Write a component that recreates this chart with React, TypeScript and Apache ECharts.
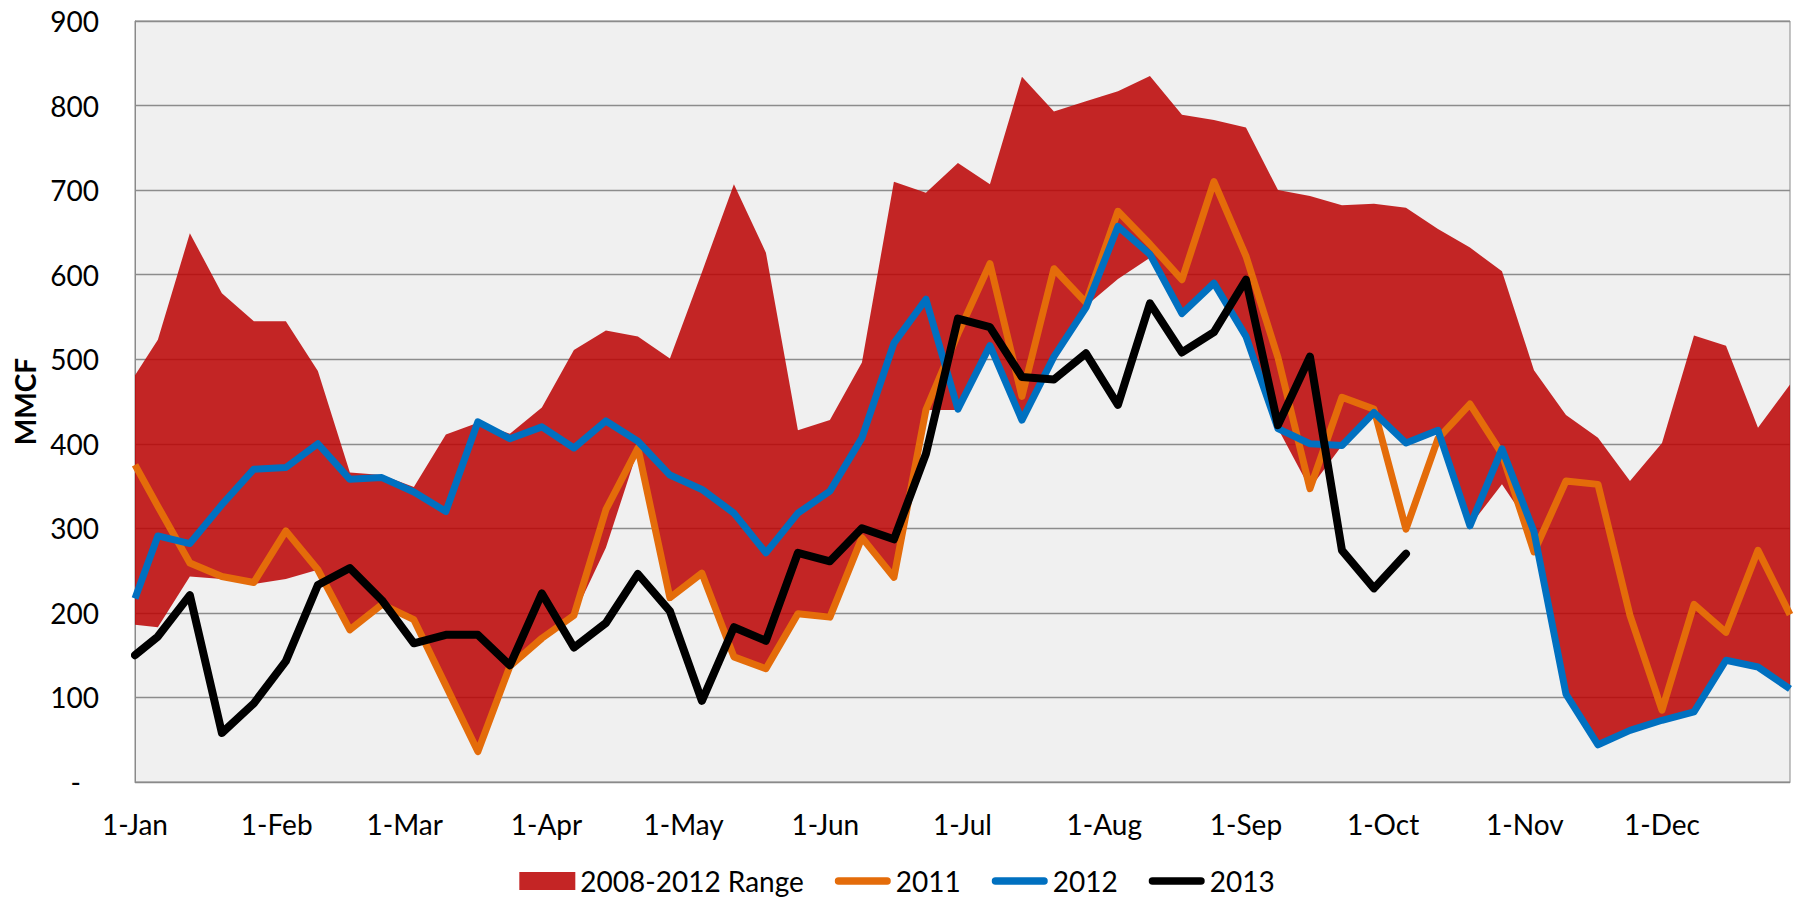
import React, { useEffect, useRef } from 'react';
import * as echarts from 'echarts';

// Day of year (0 = 1-Jan) of each weekly observation
const weekDays = [0, 5, 12, 19, 26, 33, 40, 47, 54, 61, 68, 75, 82, 89, 96, 103, 110, 117, 124, 131, 138, 145, 152, 159, 166, 173, 180, 187, 194, 201, 208, 215, 222, 229, 236, 243, 250, 257, 264, 271, 278, 285, 292, 299, 306, 313, 320, 327, 334, 341, 348, 355, 362];

const monthStartDays = [0, 31, 59, 90, 120, 151, 181, 212, 243, 273, 304, 334];
const monthLabels = ['1-Jan', '1-Feb', '1-Mar', '1-Apr', '1-May', '1-Jun', '1-Jul', '1-Aug', '1-Sep', '1-Oct', '1-Nov', '1-Dec'];

const rangeHigh = [481, 523, 649, 578, 545, 545, 486, 366, 363, 349, 411, 425, 412, 443, 511, 534, 527, 501, 603, 707, 626, 416, 428, 496, 710, 697, 732, 707, 834, 793, 805, 817, 835, 789, 783, 774, 700, 693, 682, 684, 679, 654, 632, 604, 487, 434, 407, 356, 401, 528, 516, 419, 470];
const rangeLow = [186, 183, 243, 240, 234, 240, 251, 180, 209, 192, 114, 36, 136, 169, 197, 277, 393, 217, 246, 148, 134, 199, 195, 289, 241, 440, 440, 516, 428, 503, 563, 595, 620, 554, 589, 526, 418, 347, 398, 437, 401, 416, 303, 352, 296, 104, 44, 61, 73, 83, 144, 136, 110];
const y2011 = [375, 326, 259, 243, 236, 297, 251, 180, 210, 192, 114, 36, 137, 170, 197, 322, 395, 218, 247, 148, 134, 199, 195, 289, 242, 440, 530, 613, 456, 607, 567, 675, 636, 594, 710, 622, 502, 347, 455, 441, 299, 406, 447, 388, 272, 356, 352, 197, 85, 210, 177, 274, 198];
const y2012 = [217, 291, 282, 328, 370, 372, 400, 358, 360, 343, 320, 426, 406, 420, 395, 427, 403, 363, 346, 318, 271, 318, 344, 407, 519, 571, 441, 516, 428, 503, 561, 657, 624, 554, 590, 527, 418, 400, 398, 437, 401, 416, 303, 394, 296, 104, 44, 61, 73, 83, 144, 136, 110];
const y2013 = [150, 172, 221, 58, 93, 143, 233, 253, 215, 164, 174, 174, 138, 223, 159, 188, 246, 202, 96, 183, 167, 271, 261, 300, 287, 388, 548, 538, 479, 476, 507, 446, 566, 508, 532, 594, 422, 503, 274, 229, 270];

const FONT = 'Lato, "Open Sans", sans-serif';
const LINE_ICON = 'path://M4,0 L56,0 A4,4 0 0 1 56,8 L4,8 A4,4 0 0 1 4,0 Z';

export default function App() {
  const ref = useRef<HTMLDivElement>(null);

  useEffect(() => {
    const chart = echarts.init(ref.current as HTMLDivElement, null, { renderer: 'svg' });
    const pairs = (vals: number[]) => vals.map((v, i) => [weekDays[i], v]);

    chart.setOption({
      animation: false,
      textStyle: { fontFamily: FONT, color: '#000' },
      grid: {
        left: 135,
        right: 4,
        top: 21,
        bottom: 116,
        show: true,
        backgroundColor: '#f0f0f0',
        borderColor: '#8a8a8a',
        borderWidth: 1,
      },
      legend: {
        top: 861,
        left: 'center',
        itemWidth: 56,
        itemHeight: 18,
        itemGap: 31,
        symbolKeepAspect: true,
        textStyle: { fontSize: 28, fontFamily: FONT, color: '#000', lineHeight: 30 },
        data: [
          { name: '2008-2012 Range', icon: 'rect' },
          { name: '2011', icon: LINE_ICON },
          { name: '2012', icon: LINE_ICON },
          { name: '2013', icon: LINE_ICON },
        ],
      },
      xAxis: {
        type: 'value',
        min: 0,
        max: 362,
        splitLine: { show: false },
        axisTick: { show: false },
        axisLine: { show: true, lineStyle: { color: '#8a8a8a' } },
        axisLabel: {
          customValues: monthStartDays,
          formatter: (v: number) => {
            const k = monthStartDays.indexOf(Math.round(v));
            return k >= 0 ? monthLabels[k] : '';
          },
          fontSize: 28,
          fontFamily: FONT,
          color: '#000',
          margin: 28,
        },
      },
      yAxis: {
        type: 'value',
        min: 0,
        max: 900,
        interval: 100,
        name: 'MMCF',
        nameLocation: 'middle',
        nameGap: 96,
        nameTextStyle: { fontSize: 28, fontWeight: 'bold', fontFamily: FONT, color: '#000' },
        splitLine: { show: true, lineStyle: { color: '#8c8c8c', width: 1.3 } },
        axisLine: { show: true, lineStyle: { color: '#8a8a8a' } },
        axisTick: { show: false },
        axisLabel: {
          fontSize: 28,
          fontFamily: FONT,
          color: '#000',
          margin: 36,
          formatter: (v: number) => (v === 0 ? '{d|-}' : String(v)),
          rich: { d: { fontSize: 28, fontFamily: FONT, color: '#000', padding: [0, 18, 0, 0] } },
        },
      },
      series: [
        {
          type: 'custom',
          name: '2008-2012 Range',
          data: weekDays.map((d, i) => [d, rangeLow[i], rangeHigh[i]]),
          encode: { x: 0, y: [1, 2] },
          itemStyle: { color: '#c42525' },
          silent: true,
          z: 1,
          renderItem: (params: any, api: any) => {
            if (params.dataIndex !== 0) return null;
            const top = weekDays.map((d, i) => api.coord([d, rangeHigh[i]]));
            const bottom = weekDays.map((d, i) => api.coord([d, rangeLow[i]])).reverse();
            return {
              type: 'polygon',
              shape: { points: top.concat(bottom) },
              style: { fill: 'rgb(188,4,4)', opacity: 0.86 },
            };
          },
        },
        {
          type: 'line',
          name: '2011',
          data: pairs(y2011),
          symbol: 'none',
          showSymbol: false,
          lineStyle: { color: '#e46c0a', width: 7, join: 'round' },
          itemStyle: { color: '#e46c0a' },
          z: 2,
        },
        {
          type: 'line',
          name: '2012',
          data: pairs(y2012),
          symbol: 'none',
          showSymbol: false,
          lineStyle: { color: '#0070c0', width: 7, join: 'round' },
          itemStyle: { color: '#0070c0' },
          z: 3,
        },
        {
          type: 'line',
          name: '2013',
          data: pairs(y2013),
          symbol: 'none',
          showSymbol: false,
          lineStyle: { color: '#000000', width: 8, join: 'round', cap: 'round' },
          itemStyle: { color: '#000000' },
          z: 4,
        },
      ],
    });

    return () => chart.dispose();
  }, []);

  return (
    <div
      ref={ref}
      style={{ position: 'fixed', left: 0, top: 0, width: 1794, height: 898, background: '#ffffff' }}
    />
  );
}
